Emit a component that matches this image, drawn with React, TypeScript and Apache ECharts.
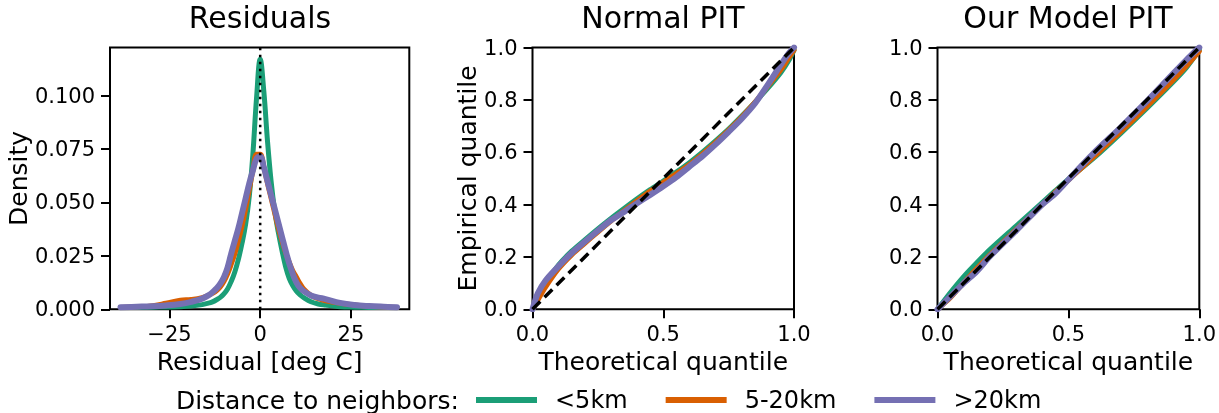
import React, { useEffect, useRef } from "react";
import * as echarts from "echarts";

const GROUPS = ["<5km", "5-20km", ">20km"];
const COLORS = ["#1b9e77", "#d95f02", "#7570b3"];
const TITLES = ["Residuals", "Normal PIT", "Our Model PIT"];
const LEGEND_TITLE = "Distance to neighbors:";

// Residual KDE
const residX = [-38.5, -34, -30, -26, -22, -19, -16, -14, -13, -12, -11, -10, -9, -8, -7, -6, -5, -4, -3, -2, -1, 0, 1, 2, 3, 4, 5, 6, 7, 8, 9, 10, 11, 12, 14, 16, 18, 22, 26, 30, 34, 37.7];
const residNear = [0.0008, 0.0009, 0.001, 0.0011, 0.0012, 0.0015, 0.0022, 0.003, 0.0036, 0.0045, 0.0056, 0.0072, 0.0095, 0.013, 0.0175, 0.0235, 0.031, 0.04, 0.053, 0.073, 0.099, 0.117, 0.102, 0.079, 0.06, 0.046, 0.036, 0.0275, 0.02, 0.0145, 0.011, 0.0085, 0.0068, 0.0055, 0.0035, 0.0025, 0.002, 0.0012, 0.001, 0.0009, 0.0008, 0.0008];
const residMid = [0.0008, 0.0012, 0.0016, 0.0028, 0.0042, 0.0046, 0.0055, 0.0068, 0.0076, 0.0088, 0.0105, 0.013, 0.0165, 0.021, 0.026, 0.032, 0.039, 0.047, 0.056, 0.065, 0.0725, 0.0725, 0.0665, 0.059, 0.052, 0.045, 0.038, 0.032, 0.0265, 0.022, 0.018, 0.015, 0.012, 0.0095, 0.0065, 0.005, 0.004, 0.0028, 0.002, 0.0014, 0.0011, 0.0008];
const residFar = [0.001, 0.0012, 0.0014, 0.0018, 0.0025, 0.0035, 0.005, 0.0068, 0.0082, 0.0098, 0.012, 0.015, 0.0195, 0.026, 0.032, 0.038, 0.045, 0.052, 0.059, 0.065, 0.0705, 0.0715, 0.0665, 0.06, 0.0535, 0.047, 0.0405, 0.034, 0.0275, 0.0215, 0.0165, 0.0125, 0.01, 0.0085, 0.0065, 0.0055, 0.0048, 0.003, 0.002, 0.0015, 0.0012, 0.001];

// Normal PIT
const normX = [0, 0.02, 0.05, 0.1, 0.15, 0.2, 0.25, 0.3, 0.35, 0.4, 0.45, 0.5, 0.55, 0.6, 0.65, 0.7, 0.75, 0.8, 0.85, 0.9, 0.95, 0.98, 1];
const normNear = [0, 0.045, 0.1, 0.17, 0.222, 0.265, 0.307, 0.347, 0.385, 0.422, 0.457, 0.49, 0.524, 0.56, 0.6, 0.643, 0.688, 0.738, 0.79, 0.845, 0.905, 0.95, 0.99];
const normMid = [0, 0.035, 0.085, 0.155, 0.208, 0.252, 0.295, 0.337, 0.377, 0.415, 0.452, 0.485, 0.518, 0.553, 0.594, 0.638, 0.685, 0.735, 0.79, 0.852, 0.915, 0.96, 0.99];
const normFar = [0, 0.06, 0.11, 0.165, 0.215, 0.258, 0.3, 0.34, 0.372, 0.405, 0.437, 0.47, 0.505, 0.545, 0.585, 0.63, 0.678, 0.728, 0.785, 0.858, 0.935, 0.978, 1];

// Our Model PIT
const ourX = [0, 0.05, 0.1, 0.15, 0.2, 0.3, 0.4, 0.45, 0.5, 0.6, 0.7, 0.8, 0.9, 0.95, 1];
const ourNear = [0, 0.065, 0.125, 0.178, 0.228, 0.318, 0.408, 0.453, 0.497, 0.58, 0.672, 0.768, 0.868, 0.922, 0.99];
const ourMid = [0, 0.045, 0.102, 0.156, 0.208, 0.305, 0.4, 0.448, 0.493, 0.585, 0.678, 0.775, 0.875, 0.928, 0.985];
const ourFar = [0, 0.05, 0.1, 0.145, 0.202, 0.3, 0.4, 0.442, 0.495, 0.6, 0.695, 0.795, 0.9, 0.952, 1];

const diagonal = [0, 1];

const pairs = (xs: number[], ys: number[]) => xs.map((x, i) => [x, ys[i]]);

const FONT = "DejaVu Sans";

export default function App() {
  const ref = useRef<HTMLDivElement>(null);
  useEffect(() => {
    document.body.style.margin = "0";
    const chart = echarts.init(ref.current!, undefined, { renderer: "svg" });
    const grids = [
      { left: 110, top: 47.5, width: 299.3, height: 261.8 },
      { left: 532.5, top: 47.5, width: 261.5, height: 261.8 },
      { left: 937.5, top: 47.5, width: 262, height: 261.8 },
    ].map((g) => ({ ...g, show: true, borderColor: "#000", borderWidth: 2, backgroundColor: "transparent" }));

    const tickCommon = { show: true, length: 9, lineStyle: { color: "#000", width: 2 } };
    const labelCommon = { color: "#000", fontSize: 21, fontFamily: FONT };
    const nameCommon = { color: "#000", fontSize: 25, fontFamily: FONT };
    const lineOff = { show: false, onZero: false };

    const xAxes = [
      {
        type: "value", gridIndex: 0, min: -41.4, max: 41.1,
        axisLine: lineOff, splitLine: { show: false },
        axisTick: { ...tickCommon, customValues: [-25, 0, 25] },
        axisLabel: { ...labelCommon, margin: 14, customValues: [-25, 0, 25], formatter: (v: number) => String(v).replace("-", "\u2212") },
        name: "Residual [deg C]", nameLocation: "middle", nameGap: 33, nameTextStyle: nameCommon,
      },
      ...[1, 2].map((gi) => ({
        type: "value", gridIndex: gi, min: 0, max: 1,
        axisLine: lineOff, splitLine: { show: false },
        axisTick: { ...tickCommon, customValues: [0, 0.5, 1] },
        axisLabel: { ...labelCommon, margin: 14, customValues: [0, 0.5, 1], formatter: (v: number) => v.toFixed(1) },
        name: "Theoretical quantile", nameLocation: "middle", nameGap: 33, nameTextStyle: nameCommon,
      })),
    ];
    const yTicks = [0, 0.2, 0.4, 0.6, 0.8, 1];
    const yAxes = [
      {
        type: "value", gridIndex: 0, min: 0, max: 0.1225,
        axisLine: lineOff, splitLine: { show: false },
        axisTick: { ...tickCommon, customValues: [0, 0.025, 0.05, 0.075, 0.1] },
        axisLabel: { ...labelCommon, margin: 15, customValues: [0, 0.025, 0.05, 0.075, 0.1], formatter: (v: number) => v.toFixed(3) },
        name: "Density", nameLocation: "middle", nameGap: 76, nameTextStyle: nameCommon,
      },
      ...[1, 2].map((gi) => ({
        type: "value", gridIndex: gi, min: 0, max: 1,
        axisLine: lineOff, splitLine: { show: false },
        axisTick: { ...tickCommon, customValues: yTicks },
        axisLabel: { ...labelCommon, margin: 15, customValues: yTicks, formatter: (v: number) => v.toFixed(1) },
        name: gi === 1 ? "Empirical quantile" : "", nameLocation: "middle", nameGap: 52, nameTextStyle: nameCommon,
      })),
    ];

    const lineSeries = (name: string, color: string, data: number[][], gi: number, width: number, smooth: number) => ({
      type: "line", name, xAxisIndex: gi, yAxisIndex: gi, data, showSymbol: false, symbol: "none",
      smooth, lineStyle: { color, width, cap: "round", join: "round" }, itemStyle: { color },
      silent: true, z: 2,
    });

    const panels = [
      { gi: 0, xs: residX, ys: [residNear, residMid, residFar] },
      { gi: 1, xs: normX, ys: [normNear, normMid, normFar] },
      { gi: 2, xs: ourX, ys: [ourNear, ourMid, ourFar] },
    ];
    const series: any[] = [];
    panels.forEach((p) => {
      p.ys.forEach((ys, k) => {
        series.push(lineSeries(GROUPS[k], COLORS[k], pairs(p.xs, ys), p.gi, k === 2 ? 6 : 5, p.gi === 0 ? 0.4 : 0.25));
      });
    });
    series.push({
      type: "line", name: "zero", xAxisIndex: 0, yAxisIndex: 0, data: [[0, 0], [0, 0.1225]], symbol: "none",
      lineStyle: { color: "#000", width: 2.5, type: [2.5, 4.5] }, z: 5, silent: true,
    });
    [1, 2].forEach((gi) => {
      series.push({
        type: "line", name: "identity", xAxisIndex: gi, yAxisIndex: gi, data: pairs(diagonal, diagonal), symbol: "none",
        lineStyle: { color: "#000", width: 3.5, type: [11, 6] }, z: 5, silent: true,
      });
    });

    chart.setOption({
      animation: false,
      textStyle: { fontFamily: FONT },
      title: [260, 663, 1068].map((x, i) => ({
        text: TITLES[i], left: x, textAlign: "center", top: 2, padding: 0,
        textStyle: { color: "#000", fontSize: 30, fontWeight: "normal", fontFamily: FONT },
      })),
      legend: {
        data: GROUPS, left: 476, top: 388, padding: 0, icon: "rect", itemWidth: 61, itemHeight: 6, itemGap: 38,
        textStyle: { color: "#000", fontSize: 24, fontFamily: FONT, padding: [0, 0, 0, 13] },
        selectedMode: false,
      },
      graphic: [
        {
          type: "text", x: 459, y: 400,
          style: { text: LEGEND_TITLE, fill: "#000", fontSize: 25, lineHeight: 24, fontFamily: FONT, textAlign: "right", textVerticalAlign: "middle" },
        },
      ],
      grid: grids,
      xAxis: xAxes,
      yAxis: yAxes,
      series,
    });
    return () => chart.dispose();
  }, []);
  return <div ref={ref} style={{ position: "fixed", left: 0, top: 0, width: 1219, height: 413 }} />;
}
